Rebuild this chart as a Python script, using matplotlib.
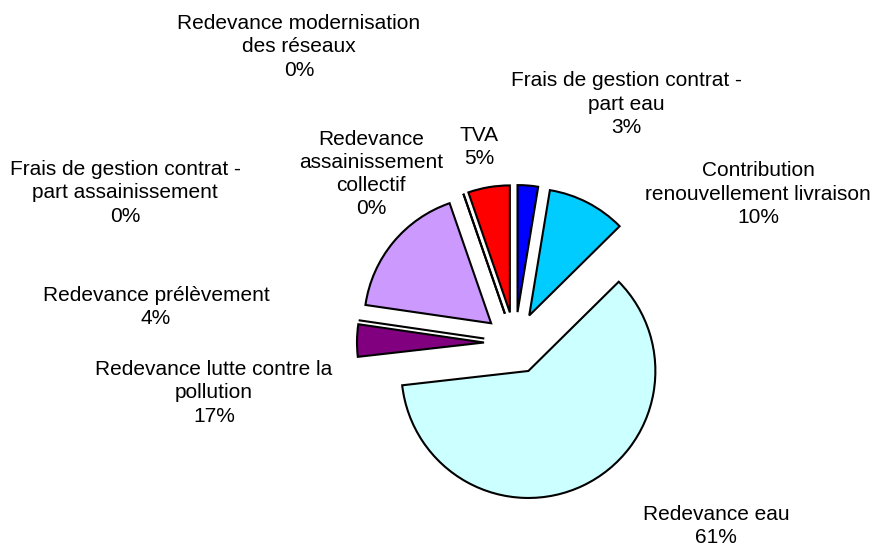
import matplotlib
matplotlib.use("Agg")
import matplotlib.pyplot as plt

# ---- data ----
categories = [
    "Frais de gestion contrat -\npart eau",
    "Contribution\nrenouvellement livraison",
    "Redevance eau",
    "Redevance prélèvement",
    "Frais de gestion contrat -\npart assainissement",
    "Redevance lutte contre la\npollution",
    "Redevance\nassainissement\ncollectif",
    "Redevance modernisation\ndes réseaux",
    "TVA",
]
values = [2.6, 10.0, 60.6, 4.1, 0.0, 17.4, 0.0, 0.0, 5.3]
colors = ["#0000FF", "#00CCFF", "#CCFFFF", "#800080", "#FFFFFF",
          "#CC99FF", "#FFFFFF", "#FFFFFF", "#FF0000"]

# ---- layout (pixel coordinates, y measured from top) ----
W, H = 873, 548
center_px = (515, 343)
radius_px = 127
explode_px = 31
label_pos = [
    (626, 104),   # Frais part eau
    (758, 194),   # Contribution
    (716, 526),   # Redevance eau
    (156, 307),   # prélèvement
    (125, 193),   # Frais part assainissement
    (214, 393),   # lutte pollution
    (371, 174),   # assainissement collectif
    (299, 47),    # modernisation
    (479, 147),   # TVA
]

fig = plt.figure(figsize=(W / 100, H / 100), dpi=100)
ax = fig.add_axes([0, 0, 1, 1])

ax.pie(values, colors=colors, startangle=90, counterclock=False,
       center=(center_px[0], H - center_px[1]), radius=radius_px,
       explode=[explode_px] * len(values),
       wedgeprops=dict(edgecolor="black", linewidth=1.5),
       normalize=True)
ax.set_xlim(0, W)
ax.set_ylim(0, H)
ax.set_aspect("equal")
ax.axis("off")

total = sum(values)
for name, v, (lx, ly) in zip(categories, values, label_pos):
    ax.text(lx, H - ly, f"{name}\n{v / total * 100:.0f}%",
            ha="center", va="center", multialignment="center",
            fontsize=15, family="Liberation Sans", color="black",
            linespacing=1.27)

fig.savefig("out.png", dpi=100)
